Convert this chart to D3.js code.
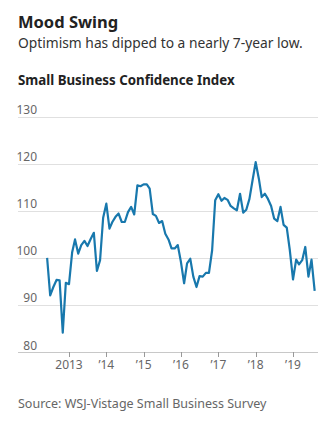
<!DOCTYPE html>
<html>
<head>
<meta charset="utf-8">
<script src="https://cdn.jsdelivr.net/npm/d3@7"></script>
<style>
  body { margin: 0; background: #fff; }
  svg { display: block; font-family: "Noto Sans", "Open Sans", sans-serif; }
</style>
</head>
<body>
<svg id="chart" width="328" height="433"></svg>
<script>
// monthly index values, June 2012 - August 2019
var startMonth = new Date(2012, 5, 1);
var values = [
    100, 92, 93.8, 95.3, 95.2, 84.1, 94.7,
    94.4, 101.2, 103.9, 100.9, 102.7, 103.6, 102.5, 104, 105.3, 97.2, 99.5, 108.5,
    111.5, 106.2, 107.6, 108.7, 109.4, 107.6, 107.6, 109.7, 110.8, 109.2, 115.4, 115.2,
    115.6, 115.6, 114.7, 109.3, 108.9, 107.4, 107.8, 105.1, 103.9, 102, 102, 102.7,
    99.1, 94.6, 98.8, 99.8, 96, 93.8, 96.1, 96, 96.8, 96.8, 101.6, 112.2,
    113.5, 112.1, 112.7, 112.3, 111, 110.5, 110.1, 113.6, 109.6, 110.2, 112.5, 116.4,
    120.3, 116.8, 112.9, 113.6, 112.5, 111, 108.3, 107.8, 110.8, 107, 106.4, 101.6,
    95.4, 99.6, 98.6, 99.5, 102.3, 96, 99.6, 93
];
var yTicks = [80, 90, 100, 110, 120, 130];
var xTickYears = [2013, 2014, 2015, 2016, 2017, 2018, 2019];
var xTickLabels = ["2013", "\u201914", "\u201915", "\u201916", "\u201917", "\u201918", "\u201919"];

var data = values.map(function (v, i) {
    return { date: d3.timeMonth.offset(startMonth, i), value: v };
});

var svg = d3.select("#chart");
var left = 18, right = 318;

var x = d3.scaleTime()
    .domain([new Date(2013, 0, 1), new Date(2019, 0, 1)])
    .range([69, 293]);
var y = d3.scaleLinear().domain([80, 130]).range([352, 116.5]);

// titles
svg.append("text").attr("x", left).attr("y", 28)
    .attr("font-size", 16.5).attr("font-weight", 700).attr("fill", "#222")
    .text("Mood Swing");
svg.append("text").attr("x", left).attr("y", 48)
    .attr("font-size", 13.8).attr("fill", "#333")
    .text("Optimism has dipped to a nearly 7-year low.");
svg.append("text").attr("x", left).attr("y", 85)
    .attr("font-size", 13.3).attr("font-weight", 700).attr("fill", "#222")
    .text("Small Business Confidence Index");

// gridlines + y labels
var grid = svg.append("g");
grid.selectAll("line").data(yTicks).enter().append("line")
    .attr("x1", left).attr("x2", right)
    .attr("y1", function (d) { return Math.round(y(d)) + 0.5; })
    .attr("y2", function (d) { return Math.round(y(d)) + 0.5; })
    .attr("stroke", function (d) { return d === 80 ? "#c8c8c8" : "#e0e0e0"; })
    .attr("stroke-width", 1);
grid.selectAll("text").data(yTicks).enter().append("text")
    .attr("x", 37).attr("y", function (d) { return y(d) - 2.5; })
    .attr("text-anchor", "end")
    .attr("font-size", 12).attr("fill", "#666")
    .text(function (d) { return d; });

// x axis ticks
var xg = svg.append("g");
xg.selectAll("line").data(xTickYears).enter().append("line")
    .attr("x1", function (d) { return Math.round(x(new Date(d, 0, 1))) + 0.5; })
    .attr("x2", function (d) { return Math.round(x(new Date(d, 0, 1))) + 0.5; })
    .attr("y1", 352).attr("y2", 357)
    .attr("stroke", "#999");
xg.selectAll("text").data(xTickYears).enter().append("text")
    .attr("x", function (d) { return x(new Date(d, 0, 1)); })
    .attr("y", 369)
    .attr("text-anchor", "middle")
    .attr("font-size", 12).attr("fill", "#666")
    .text(function (d, i) { return xTickLabels[i]; });

// line
var line = d3.line()
    .x(function (d) { return x(d.date); })
    .y(function (d) { return y(d.value); });
svg.append("path").datum(data)
    .attr("d", line)
    .attr("fill", "none")
    .attr("stroke", "#1878ad")
    .attr("stroke-width", 2.2)
    .attr("stroke-linejoin", "round");

// source
svg.append("text").attr("x", left).attr("y", 408)
    .attr("font-size", 12.5).attr("fill", "#666")
    .text("Source: WSJ-Vistage Small Business Survey");
</script>
</body>
</html>
